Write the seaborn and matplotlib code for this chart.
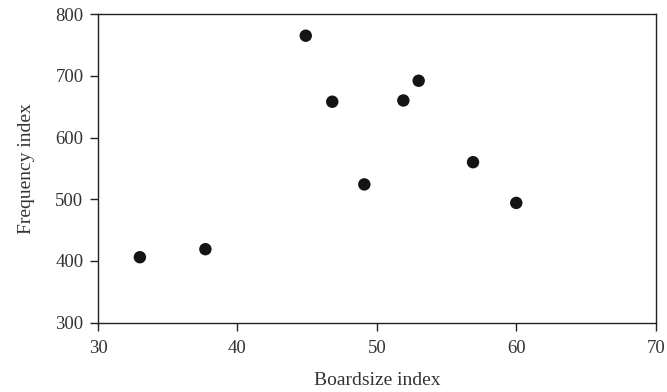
import pandas as pd
import seaborn as sns
import matplotlib.pyplot as plt

sns.set_theme(style="white")
plt.rcParams['font.family'] = ['Liberation Serif', 'DejaVu Serif']

# Boardsize vs frequency index
boardsize = [33.0, 37.7, 44.9, 46.8, 49.1, 51.9, 53.0, 56.9, 60.0]
frequency = [406, 419, 765, 658, 524, 660, 692, 560, 494]

data = pd.DataFrame({"Boardsize index": boardsize, "Frequency index": frequency})

fig = plt.figure(figsize=(6.67, 3.92), dpi=100)
ax = fig.add_axes([0.147, 0.177, 0.836, 0.787])

sns.scatterplot(x="Boardsize index", y="Frequency index", data=data, ax=ax,
                color="#141414", s=80, edgecolor="none")

ax.set_xlim(30, 70)
ax.set_ylim(300, 800)
ax.set_xticks([30, 40, 50, 60, 70])
ax.set_yticks([300, 400, 500, 600, 700, 800])

for sp in ax.spines.values():
    sp.set_color("#222222")
    sp.set_linewidth(1.0)

ax.tick_params(axis="both", which="major", direction="out", length=5.5, width=1,
               color="#222222", labelsize=13.5, labelcolor="#333333",
               bottom=True, left=True, top=False, right=False, pad=5)
ax.tick_params(axis="x", pad=7)
ax.set_xlabel("Boardsize index", fontsize=14, color="#333333", labelpad=11)
ax.set_ylabel("Frequency index", fontsize=14, color="#333333", labelpad=15)

fig.savefig("out.png", dpi=100)
